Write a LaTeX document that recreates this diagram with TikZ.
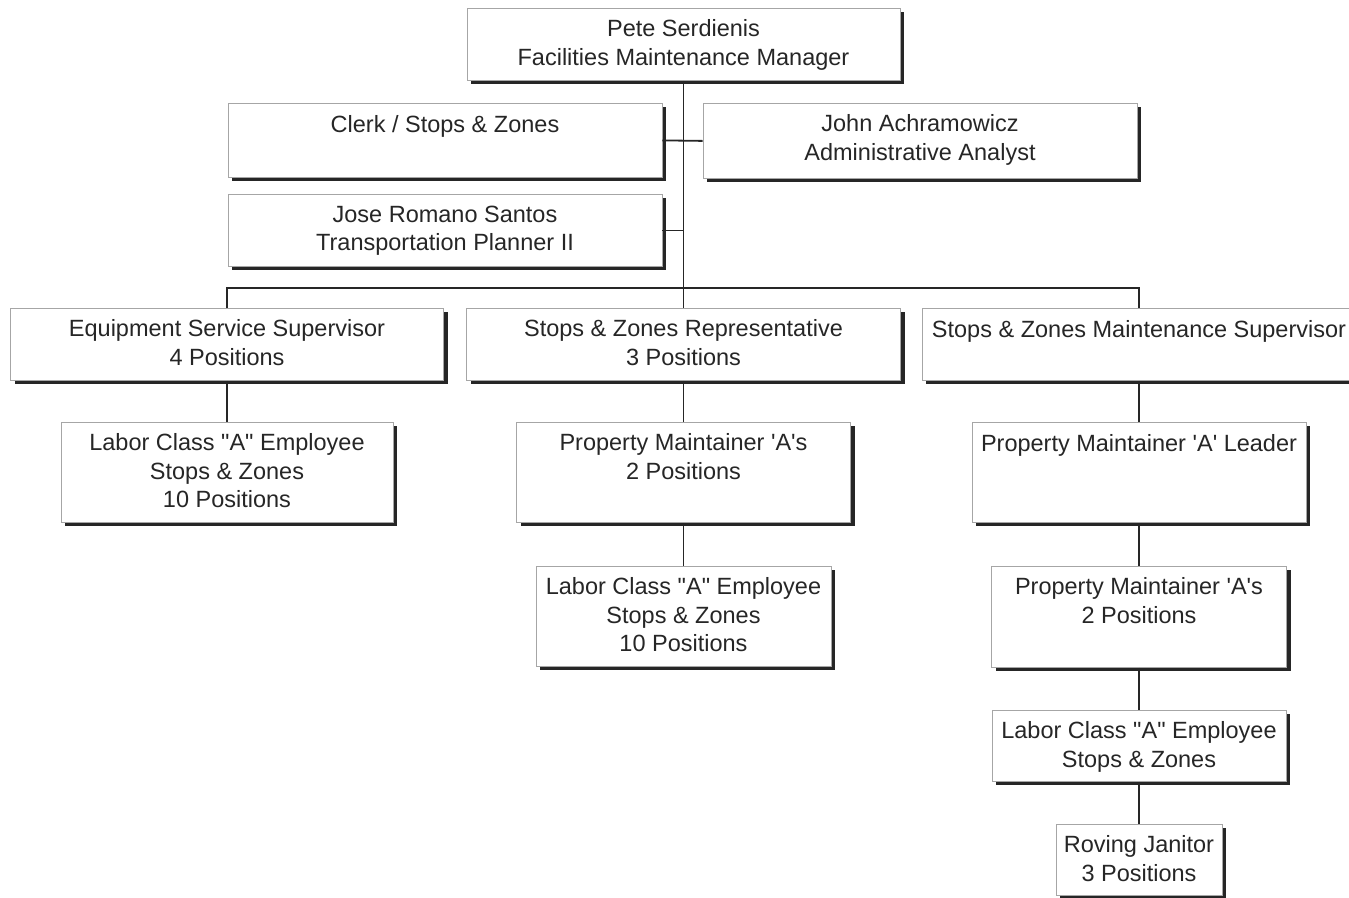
\documentclass[tikz,border=0pt]{standalone}
\usepackage{fontspec}
\setmainfont{Liberation Sans}
\usetikzlibrary{shadows}

\begin{document}
\begin{tikzpicture}[x=1pt, y=-1pt,
		box/.style={draw=black!35, line width=0.8pt, fill=white, anchor=north, inner sep=0pt,
			drop shadow={shadow xshift=4pt, shadow yshift=-4pt, fill=black!85, opacity=1}},
		txt/.style={anchor=north, align=center, inner sep=0pt, yshift=-9pt, text=black!85,
			font=\fontsize{23.5}{28.5}\selectfont, execute at begin node=\strut},
		txtm/.style={txt, yshift=-2.5pt},
		link/.style={line width=1.8pt, black!85}]
		
		\useasboundingbox (0,0) rectangle (1349,897);
		
		% Leitung oben
		\node[box, minimum width=433pt, minimum height=72pt] (pete) at (683.5,8) {};
		\node[txtm] at (pete.north) {Pete Serdienis\\Facilities Maintenance Manager};
		
		% Stab
		\node[box, minimum width=434pt, minimum height=74pt] (clerk) at (445,103) {};
		\node[txt] at (clerk.north) {Clerk / Stops \& Zones};
		\node[box, minimum width=434pt, minimum height=75pt] (john) at (920,103) {};
		\node[txtm] at (john.north) {John Achramowicz\\Administrative Analyst};
		\node[box, minimum width=434pt, minimum height=72pt] (jose) at (445,194) {};
		\node[txtm] at (jose.north) {Jose Romano Santos\\Transportation Planner II};
		
		% Drei Bereiche
		\node[box, minimum width=433pt, minimum height=72pt] (esup) at (227,308) {};
		\node[txtm] at (esup.north) {Equipment Service Supervisor\\4 Positions};
		\node[box, minimum width=434pt, minimum height=72pt] (rep) at (683.5,308) {};
		\node[txtm] at (rep.north) {Stops \& Zones Representative\\3 Positions};
		\node[box, minimum width=434pt, minimum height=72pt] (msup) at (1139,308) {};
		\node[txt] at (msup.north) {Stops \& Zones Maintenance Supervisor};
		
		% Links
		\node[box, minimum width=332pt, minimum height=100pt] (lab1) at (227,422) {};
		\node[txtm] at (lab1.north) {Labor Class \textquotedbl A\textquotedbl{} Employee\\Stops \& Zones\\10 Positions};
		
		% Mitte
		\node[box, minimum width=334pt, minimum height=100pt] (pm1) at (683.5,422) {};
		\node[txtm] at (pm1.north) {Property Maintainer \textquotesingle A\textquotesingle s\\2 Positions};
		\node[box, minimum width=295pt, minimum height=100pt] (lab2) at (683.5,566) {};
		\node[txtm] at (lab2.north) {Labor Class \textquotedbl A\textquotedbl{} Employee\\Stops \& Zones\\10 Positions};
		
		% Rechts
		\node[box, minimum width=334pt, minimum height=100pt] (lead) at (1139,422) {};
		\node[txt] at (lead.north) {Property Maintainer \textquotesingle A\textquotesingle{} Leader};
		\node[box, minimum width=295pt, minimum height=101pt] (pm2) at (1139,566) {};
		\node[txtm] at (pm2.north) {Property Maintainer \textquotesingle A\textquotesingle s\\2 Positions};
		\node[box, minimum width=294pt, minimum height=71pt] (lab3) at (1139,710) {};
		\node[txtm] at (lab3.north) {Labor Class \textquotedbl A\textquotedbl{} Employee\\Stops \& Zones};
		\node[box, minimum width=166pt, minimum height=71pt] (rove) at (1139,824) {};
		\node[txtm] at (rove.north) {Roving Janitor\\3 Positions};
		
		% Verbindungen
		\draw[link] (pete.south) -- (rep.north);
		\draw[link] (clerk.east) -- (john.west);
		\draw[link] (jose.east) -- (jose.east -| pete.south);
		\draw[link] (esup.north) -- ++(0,-20) -| (msup.north);
		\draw[link] (esup.south) -- (lab1.north);
		\draw[link] (rep.south) -- (pm1.north);
		\draw[link] (pm1.south) -- (lab2.north);
		\draw[link] (msup.south) -- (lead.north);
		\draw[link] (lead.south) -- (pm2.north);
		\draw[link] (pm2.south) -- (lab3.north);
		\draw[link] (lab3.south) -- (rove.north);
		
	\end{tikzpicture}
\end{document}
